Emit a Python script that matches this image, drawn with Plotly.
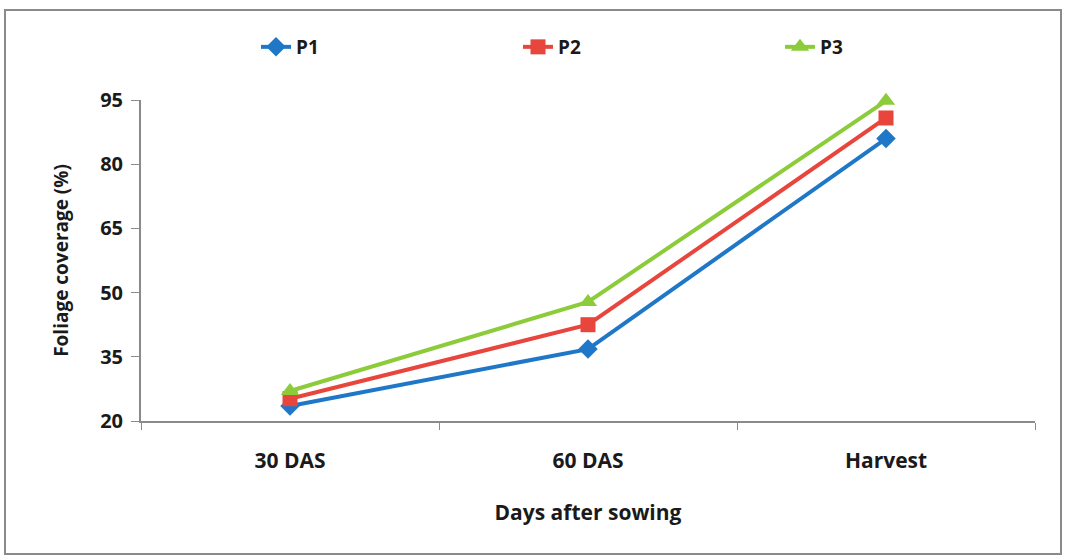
import plotly.graph_objects as go

categories = ["30 DAS", "60 DAS", "Harvest"]
p1 = [23.5, 36.8, 86.0]
p2 = [25.2, 42.5, 90.8]
p3 = [27.0, 47.8, 94.8]
y_ticks = [20, 35, 50, 65, 80, 95]

series = [
    ("P1", p1, "#1F77C8", "diamond", 15, "legend", 256),
    ("P2", p2, "#E8453C", "square", 15, "legend2", 518),
    ("P3", p3, "#8CCB3A", "triangle-up", 16, "legend3", 780),
]

W, H = 1065, 557
ml, mr, mt, mb = 141, 30, 100, 136
pw, ph = W - ml - mr, H - mt - mb
FONT = "Open Sans"

def px(x):
    return (x - ml) / pw

def py(y):
    return (H - mb - y) / ph

fig = go.Figure()
legends = {}
for name, vals, color, sym, size, leg, lx in series:
    fig.add_trace(go.Scatter(
        x=categories, y=vals, name=name, mode="lines+markers",
        line=dict(color=color, width=4),
        marker=dict(symbol=sym, size=size, color=color),
        legend=leg, cliponaxis=False,
    ))
    legends[leg] = dict(
        orientation="h", xref="container", x=lx / W, xanchor="left",
        yref="container", y=1 - 47 / H, yanchor="middle",
        bgcolor="rgba(0,0,0,0)",
        font=dict(size=19, family=FONT, color="#1a1a1a", weight="bold"),
    )

fig.update_layout(
    width=W, height=H,
    margin=dict(l=ml, r=mr, t=mt, b=mb),
    paper_bgcolor="white", plot_bgcolor="white",
    font=dict(family=FONT, color="#1a1a1a"),
    showlegend=True,
    shapes=[dict(
        type="rect", xref="paper", yref="paper",
        x0=px(5), x1=px(1061), y0=py(554), y1=py(10),
        line=dict(color="#8a8a8a", width=2),
    )],
    **legends,
)

fig.update_xaxes(
    type="category", range=[-0.5, 2.5],
    showline=True, linecolor="#8a8a8a", linewidth=2,
    ticks="outside", tickson="boundaries", ticklen=7, tickcolor="#8a8a8a",
    tickfont=dict(size=21, family=FONT, weight="bold"),
    ticklabelstandoff=20,
    showgrid=False,
    title=dict(text="<b>Days after sowing</b>", font=dict(size=21, family=FONT), standoff=32),
)
fig.update_yaxes(
    range=[20, 95], tickvals=y_ticks,
    showline=True, linecolor="#8a8a8a", linewidth=2,
    ticks="outside", ticklen=8, tickcolor="#8a8a8a",
    tickfont=dict(size=20, family=FONT, weight="bold"),
    ticklabelstandoff=4,
    showgrid=False, zeroline=False,
    title=dict(text="<b>Foliage coverage (%)</b>", font=dict(size=19, family=FONT), standoff=26),
)

fig.write_html("out.html")
